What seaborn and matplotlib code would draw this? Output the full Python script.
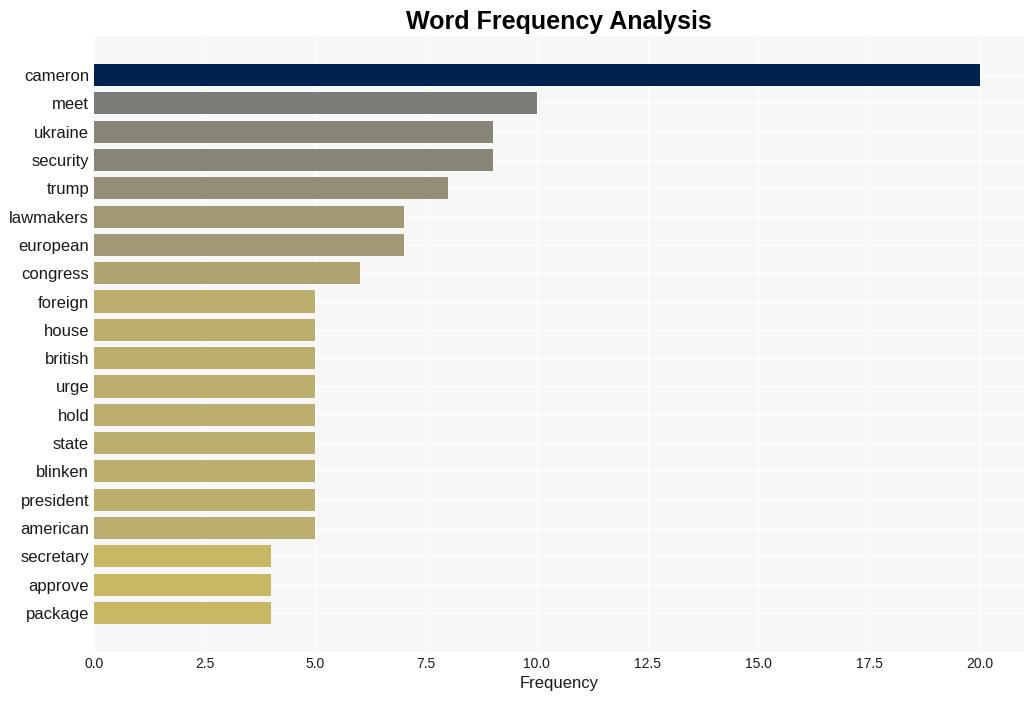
import matplotlib
matplotlib.use("Agg")
import matplotlib.pyplot as plt
import seaborn as sns
import pandas as pd
import numpy as np

words = ["cameron", "meet", "ukraine", "security", "trump", "lawmakers", "european",
         "congress", "foreign", "house", "british", "urge", "hold", "state", "blinken",
         "president", "american", "secretary", "approve", "package"]
counts = [20, 10, 9, 9, 8, 7, 7, 6, 5, 5, 5, 5, 5, 5, 5, 5, 5, 4, 4, 4]

df = pd.DataFrame({"word": words, "count": counts})

sns.set_theme(style="whitegrid")
plt.rcParams['font.family'] = ['Liberation Sans', 'DejaVu Sans']

cmap = plt.get_cmap("cividis")
maxv = max(counts)
colors = [cmap(1 - c / maxv) for c in counts]

fig = plt.figure(figsize=(10.34, 7.01), dpi=100)
ax = fig.add_axes([94 / 1034, 1 - 652 / 701, (1024 - 94) / 1034, (652 - 36) / 701])
ax.set_facecolor("#f7f7f7")

sns.barplot(data=df, x="count", y="word", hue="word", palette=colors, legend=False,
            width=0.78, ax=ax, saturation=1, linewidth=0)

ax.set_xlim(0, 21.0)
ax.set_ylim(len(words) - 1 + 1.38, -1.38)
ax.grid(True, axis="both", color="white", linewidth=1)
for s in ax.spines.values():
    s.set_visible(False)
ax.tick_params(axis="both", length=0)
ax.tick_params(axis="y", labelsize=12, pad=3.5, labelcolor="#1a1a1a")
ax.tick_params(axis="x", labelsize=10, labelcolor="#1a1a1a")
ax.set_ylabel("")
ax.set_xlabel("Frequency", fontsize=12, color="#1a1a1a")
ax.set_title("Word Frequency Analysis", fontsize=18, fontweight="bold",
             color="black", pad=5)

fig.savefig("out.png", dpi=100, facecolor="white")
